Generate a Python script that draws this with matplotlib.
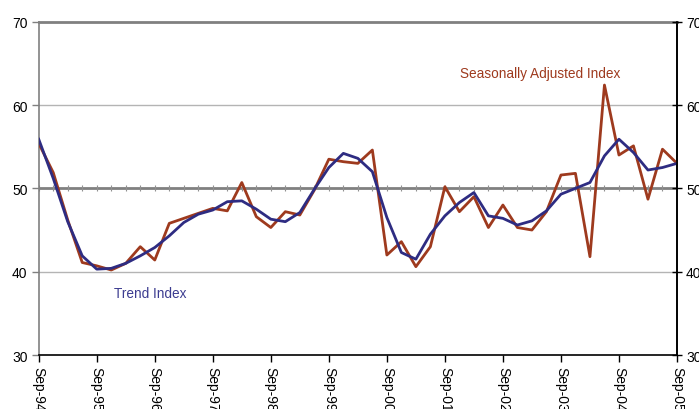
import numpy as np
import matplotlib.pyplot as plt

plt.rcParams["font.family"] = ["Liberation Sans", "DejaVu Sans"]

# ── Data (quarterly, Sep-94 .. Sep-05) ────────────────────────────────────────
year_labels = ["Sep-94", "Sep-95", "Sep-96", "Sep-97", "Sep-98", "Sep-99",
               "Sep-00", "Sep-01", "Sep-02", "Sep-03", "Sep-04", "Sep-05"]

seas_adj = [55.4, 51.9, 46.2, 41.1, 40.7, 40.2, 41.0, 43.0, 41.4, 45.8,
            46.4, 47.0, 47.6, 47.3, 50.7, 46.6, 45.3, 47.2, 46.8, 49.8,
            53.5, 53.2, 53.0, 54.6, 42.0, 43.6, 40.6, 43.0, 50.2, 47.2,
            49.0, 45.3, 48.0, 45.3, 45.0, 47.2, 51.6, 51.8, 41.8, 62.4,
            54.0, 55.1, 48.7, 54.7, 53.0]

trend = [55.9, 51.2, 46.0, 41.9, 40.3, 40.4, 41.0, 41.9, 42.9, 44.3,
         45.9, 46.9, 47.4, 48.4, 48.5, 47.5, 46.3, 46.0, 47.1, 49.9,
         52.5, 54.2, 53.6, 52.0, 46.5, 42.3, 41.5, 44.5, 46.7, 48.3,
         49.5, 46.7, 46.4, 45.6, 46.1, 47.3, 49.3, 50.0, 50.7, 53.9,
         55.9, 54.3, 52.2, 52.5, 53.0]

RED  = "#9e3a1e"
BLUE = "#2e2c82"

x = np.arange(len(seas_adj))

fig = plt.figure(figsize=(6.99, 4.10), dpi=100)
ax = fig.add_axes([0.0554, 0.1317, 0.9131, 0.8129])

ax.set_xlim(0, len(x) - 1)
ax.set_ylim(30, 70)

# grid / reference lines
for g in (40, 60):
    ax.axhline(g, color="#b4b4b4", lw=1.0, zorder=1)
ax.axhline(50, color="#808080", lw=2.0, zorder=1)
ax.plot(x, np.full(len(x), 50.0), ls="none", marker="|", ms=4,
        mew=0.8, color="#909090", zorder=1)

ax.plot(x, seas_adj, color=RED, lw=2.0, zorder=3)
ax.plot(x, trend, color=BLUE, lw=2.0, zorder=4)

# axes styling
ax.spines["top"].set_color("#808080")
ax.spines["top"].set_linewidth(2.0)
ax.spines["left"].set_color("#808080")
ax.spines["left"].set_linewidth(1.2)
ax.spines["bottom"].set_color("black")
ax.spines["bottom"].set_linewidth(1.2)
ax.spines["right"].set_color("black")
ax.spines["right"].set_linewidth(1.2)

yt = [30, 40, 50, 60, 70]
ax.set_yticks(yt)
ax.set_yticklabels([str(v) for v in yt], fontsize=10)
ax.tick_params(axis="y", which="major", length=5, width=1.0, color="#808080",
               direction="out", pad=3, left=True, right=False)

ax2 = ax.twinx()
ax2.set_ylim(30, 70)
ax2.set_yticks(yt)
ax2.set_yticklabels([str(v) for v in yt], fontsize=10)
ax2.tick_params(axis="y", length=7, width=1.0, color="black",
                direction="inout", pad=3)
for s in ("top", "left", "bottom"):
    ax2.spines[s].set_visible(False)
ax2.spines["right"].set_color("black")
ax2.spines["right"].set_linewidth(1.2)

ax.set_xticks(np.arange(0, len(x), 4))
ax.set_xticklabels(year_labels, rotation=-90, fontsize=10, va="top", ha="center")
ax.tick_params(axis="x", length=5, width=1.0, color="black", direction="out", pad=3)

ax.text(34.6, 63.9, "Seasonally Adjusted Index", color=RED, fontsize=9.8,
        ha="center", va="center")
ax.text(7.7, 37.5, "Trend Index", color="#3c3c90", fontsize=9.8,
        ha="center", va="center")

fig.savefig("out.png", dpi=100, facecolor="white")
